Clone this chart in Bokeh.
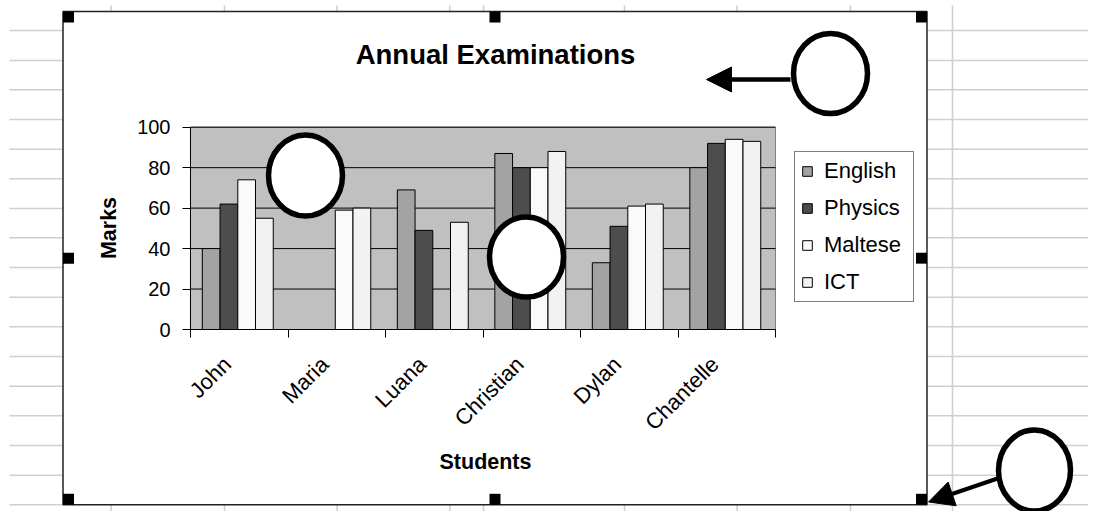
import numpy as np
from bokeh.plotting import figure
from bokeh.models import (Range1d, LinearAxis, FixedTicker, Legend, LegendItem,
                          ColumnDataSource, Label, Arrow, NormalHead)
from bokeh.transform import dodge
from bokeh.embed import file_html
from bokeh.resources import INLINE
from bokeh.core.properties import value

# ---------------- data ----------------
students = ["John", "Maria", "Luana", "Christian", "Dylan", "Chantelle"]
subjects = ["English", "Physics", "Maltese", "ICT"]
english = [40, 0, 69, 87, 33, 80]
physics = [62, 0, 49, 80, 51, 92]
maltese = [74, 59, 0, 80, 61, 94]
ict = [55, 60, 53, 88, 62, 93]
y_ticks = [0, 20, 40, 60, 80, 100]
chart_title = "Annual Examinations"
x_title = "Students"
y_title = "Marks"

# ---------------- styles / layout ----------------
FONT = "Liberation Sans"
colors = ["#A3A3A3", "#4D4D4D", "#FAFAFA", "#F2F2F2"]
W, H = 1088, 511


def Y(s):
    """picture y (from top) -> page coordinate (bottom-up)"""
    return H - s


p = figure(width=W, height=H, x_range=Range1d(0, W), y_range=Range1d(0, H),
           x_axis_type=None, y_axis_type=None, toolbar_location=None,
           output_backend="svg", min_border=0)
p.outline_line_color = None
p.background_fill_color = "white"
p.border_fill_color = "white"
p.title.visible = False

# chart coordinate systems (category index / marks)
n = len(students)
px_per_cat = 97.5
ax_left = 190.0
ax_zero = 329.0
px_per_mark = 2.023
p.extra_x_ranges = {"cx": Range1d((0 - ax_left) / px_per_cat - 0.5,
                                  (W - ax_left) / px_per_cat - 0.5)}
p.extra_y_ranges = {"cy": Range1d((ax_zero - H) / px_per_mark,
                                  (ax_zero - 0) / px_per_mark)}

# ---------------- spreadsheet background ----------------
row_lines = [30, 60, 89.3, 119, 148.7, 178.3, 208, 237.3, 267, 296.7, 326.3,
             356, 385.7, 415.3, 445, 474.7, 504.3]
col_lines = [110.6, 224, 336.6, 449.3, 483, 624, 736.6, 850]
frame_l, frame_r, frame_t, frame_b = 62.5, 926.5, 11, 504.3
grid_col = "#CFCFCF"
ry = [Y(v) for v in row_lines]
p.segment(x0=[9] * len(ry), x1=[frame_l] * len(ry), y0=ry, y1=ry,
          line_color=grid_col, line_width=1.6)
p.segment(x0=[frame_r] * len(ry), x1=[W] * len(ry), y0=ry, y1=ry,
          line_color=grid_col, line_width=1.6)
p.segment(x0=col_lines, x1=col_lines, y0=[Y(5)] * len(col_lines),
          y1=[Y(frame_t)] * len(col_lines), line_color=grid_col, line_width=1.6)
p.segment(x0=col_lines, x1=col_lines, y0=[Y(frame_b)] * len(col_lines),
          y1=[0] * len(col_lines), line_color=grid_col, line_width=1.6)
p.segment(x0=[952], x1=[952], y0=[Y(5)], y1=[0], line_color=grid_col, line_width=1.6)

# chart object frame
p.quad(left=[frame_l], right=[frame_r], top=[Y(frame_t)], bottom=[Y(frame_b)],
       fill_color="white", line_color="#222222", line_width=1.5)

# ---------------- plot area ----------------
p.quad(left=[-0.5], right=[n - 0.5], bottom=[0], top=[max(y_ticks)],
       fill_color="#C0C0C0", line_color="#808080", line_width=1,
       x_range_name="cx", y_range_name="cy")
p.segment(x0=[-0.5] * len(y_ticks), x1=[n - 0.5] * len(y_ticks), y0=y_ticks, y1=y_ticks,
          line_color="black", line_width=1, x_range_name="cx", y_range_name="cy")

src = ColumnDataSource(dict(idx=list(range(n)), student=students, English=english,
                            Physics=physics, Maltese=maltese, ICT=ict))
bw = 1 / 5.5
renderers = []
for k, subj in enumerate(subjects):
    r = p.vbar(x=dodge("idx", (k - 1.5) * bw - 0.015), top=subj, bottom=0, width=bw,
               source=src, fill_color=colors[k], line_color="black", line_width=1,
               x_range_name="cx", y_range_name="cy")
    renderers.append(r)

# axes
yax = LinearAxis(x_range_name="cx", y_range_name="cy", fixed_location=-0.5,
                 bounds=(0, max(y_ticks)), ticker=FixedTicker(ticks=y_ticks),
                 major_tick_out=8, major_tick_in=0, minor_tick_out=0, minor_tick_in=0,
                 major_label_standoff=12, major_label_text_font=FONT,
                 major_label_text_font_size="20px", major_label_text_color="black",
                 axis_line_color="black", major_tick_line_color="black")
p.add_layout(yax, "left")

xax = LinearAxis(x_range_name="cx", y_range_name="cy", fixed_location=0,
                 bounds=(-0.5, n - 0.5),
                 ticker=FixedTicker(ticks=[], minor_ticks=[i - 0.5 for i in range(n + 1)]),
                 major_tick_out=0, major_tick_in=0, minor_tick_out=8, minor_tick_in=0,
                 axis_line_color="black", minor_tick_line_color="black")
p.add_layout(xax, "below")

# category labels, rotated like the spreadsheet's
p.text(x="idx", y=0, text="student", source=src, angle=np.pi / 4,
       text_align="right", text_baseline="middle", x_offset=-12, y_offset=31,
       text_font=value(FONT), text_font_size="22px", text_color="black",
       x_range_name="cx", y_range_name="cy")

# titles
p.add_layout(Label(x=495, y=Y(53.5), text=chart_title, text_align="center",
                   text_baseline="middle", text_font=FONT, text_font_size="27.5px",
                   text_font_style="bold", text_color="black"))
p.add_layout(Label(x=108, y=Y(227.5), text=y_title, angle=np.pi / 2, text_align="center",
                   text_baseline="middle", text_font=FONT, text_font_size="21.5px",
                   text_font_style="bold", text_color="black"))
p.add_layout(Label(x=485, y=Y(461), text=x_title, text_align="center",
                   text_baseline="middle", text_font=FONT, text_font_size="21.5px",
                   text_font_style="bold", text_color="black"))

# legend
legend = Legend(items=[LegendItem(label=s, renderers=[r]) for s, r in zip(subjects, renderers)],
                location=(794, H - 301.5), margin=0, padding=6, spacing=11,
                label_height=25, glyph_height=12, glyph_width=12, label_standoff=11,
                label_width=83, label_text_font=FONT, label_text_font_size="22px",
                label_text_color="black", border_line_color="black", border_line_width=1,
                background_fill_color="white", background_fill_alpha=1)
p.add_layout(legend)

# chart handles
mid_x = (frame_l + frame_r) / 2
mid_y = (frame_t + frame_b) / 2
hs = 11
hx = [frame_l + hs / 2, mid_x, frame_r - hs / 2, frame_l + hs / 2, frame_r - hs / 2,
      frame_l + hs / 2, mid_x, frame_r - hs / 2]
hy = [frame_t + hs / 2] * 3 + [mid_y] * 2 + [frame_b - hs / 2] * 3
p.rect(x=hx, y=[Y(v) for v in hy], width=hs, height=hs, fill_color="black", line_color=None)

# annotation rings and arrows
ring_x = [305, 526, 830, 1034]
ring_y = [175, 256.5, 73, 470]
ring_w = [74, 74, 74, 72]
ring_h = [81, 80, 80, 81]
p.ellipse(x=ring_x, y=[Y(v) for v in ring_y], width=ring_w, height=ring_h,
          fill_color="white", line_color="black", line_width=5.5)

p.add_layout(Arrow(end=NormalHead(size=25, fill_color="black", line_color="black"),
                   x_start=790, y_start=Y(79), x_end=706, y_end=Y(79),
                   line_width=4.5, line_color="black"))
p.add_layout(Arrow(end=NormalHead(size=25, fill_color="black", line_color="black"),
                   x_start=997, y_start=Y(478), x_end=928, y_end=Y(501.5),
                   line_width=4, line_color="black"))

open("out.html", "w").write(file_html(p, INLINE))
